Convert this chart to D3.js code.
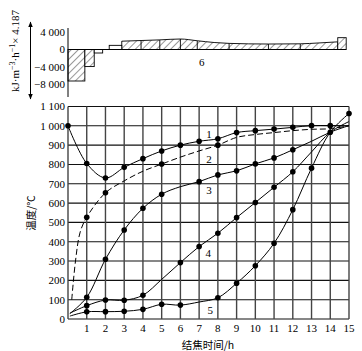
<!DOCTYPE html>
<html><head><meta charset="utf-8">
<script src="https://cdn.jsdelivr.net/npm/d3@7"></script>
<style>html,body{margin:0;padding:0;background:#fff;}</style>
</head><body>
<svg id="c" width="362" height="351"></svg>
<script>
// ---------- data ----------
const xTicks = [1,2,3,4,5,6,7,8,9,10,11,12,13,14,15];
const yTicks = [0,100,200,300,400,500,600,700,800,900,1000,1100];
const yTickLabels = ["0","100","200","300","400","500","600","700","800","900","1 000","1 100"];
const topTicks = [4000, 0, -4000, -8000];
const topTickLabels = ["4 000","0","\u22124 000","\u22128 000"];

// curve 1 (solid)
const c1T = [0,1,2,3,4,5,6,7,8,9,10,11,12,13,14,15];
const c1V = [1000,805,730,785,830,870,900,920,933,965,975,983,992,1001,1001,1000];
const c1Dots = [0,1,2,3,4,5,6,7,8,9,10,11,12,13,14];
// curve 2 (dashed)
const c2T = [0.2,0.4,0.65,1,2,3,4,5,6,7,8,9,10,11,12,13,14,15];
const c2V = [100,300,450,527,653,715,765,802,838,870,900,940,955,965,975,982,985,1000];
const c2Dots = [1,2,5,8];
// curve 3
const c3T = [0.1,1,2,3,4,5,6,7,8,9,10,11,12,13,14,15];
const c3V = [28,112,309,461,573,646,685,711,746,767,803,834,876,920,967,1001];
const c3Dots = [1,2,3,4,5,7,8,9,10,11,12,14];
// curve 4
const c4T = [0.1,1,2,3,4,5,6,7,8,9,10,11,12,13,14,15];
const c4V = [30,69,98,97,123,205,292,375,444,525,603,682,762,865,967,1022];
const c4Dots = [1,2,3,4,6,7,8,9,10,11,12];
// curve 5
const c5T = [0.1,1,2,3,4,5,6,7,8,9,10,11,12,13,14,15];
const c5V = [15,37,38,40,50,76,72,88,110,185,276,392,566,781,967,1064];
const c5Dots = [1,2,3,4,5,6,8,9,10,11,12,13,15];

const curveLabels = ["1","2","3","4","5"];
const curveLabelT = [7.53,7.53,7.53,7.48,7.6];
const curveLabelV = [958,829,668,342,47];

// heat flux (top chart): step bars
const barStart = [0, 0.9, 1.4, 2.2, 14.4];
const barEnd   = [0.9, 1.4, 1.85, 2.87, 14.85];
const barValue = [-7200, -3900, -800, 950, 2700];
const barHatched = [true, true, false, false, true];
// smooth hatched band
const bandT = [2.87,3.9,4.9,6.0,6.9,7.8,8.6,10.7,12.4,13.4,14.4];
const bandV = [1900,2050,2200,2400,2000,1600,1400,1250,1300,1500,1750];
const bandDividers = [3.9,4.9,6.0,6.9,8.6,10.7,12.4];

// ---------- drawing ----------
const svg = d3.select("#c");
const serif = "'Liberation Serif','Times New Roman',serif";
const cjk = "'Noto Sans CJK SC','Noto Sans',sans-serif";

const x = d3.scaleLinear().domain([0,15]).range([68,349]);
const y = d3.scaleLinear().domain([0,1100]).range([319,106.5]);
const yt = d3.scaleLinear().domain([-8000,4000]).range([84.5,32]);

// hatch pattern
const defs = svg.append("defs");
const pat = defs.append("pattern").attr("id","hatch").attr("patternUnits","userSpaceOnUse")
  .attr("width",5).attr("height",5).attr("patternTransform","rotate(45)");
pat.append("rect").attr("width",5).attr("height",5).attr("fill","#fff");
pat.append("line").attr("x1",0).attr("y1",0).attr("x2",0).attr("y2",5)
  .attr("stroke","#000").attr("stroke-width",0.8);

// main grid
const g = svg.append("g");
g.selectAll("line.hg").data(yTicks).join("line")
  .attr("x1",x(0)).attr("x2",x(15)).attr("y1",d=>y(d)).attr("y2",d=>y(d))
  .attr("stroke","#111").attr("stroke-width",1.1);
g.selectAll("line.vg").data([0].concat(xTicks)).join("line")
  .attr("x1",d=>x(d)).attr("x2",d=>x(d)).attr("y1",y(0)).attr("y2",y(1100))
  .attr("stroke","#444").attr("stroke-width",1.4);

// axis labels
g.selectAll("text.yl").data(yTicks).join("text")
  .attr("x",65).attr("y",(d)=>y(d)).attr("dy","0.35em").attr("text-anchor","end")
  .attr("font-family",serif).attr("font-size",11).text((d,i)=>yTickLabels[i]);
g.selectAll("text.xl").data(xTicks).join("text")
  .attr("x",d=>x(d)).attr("y",332).attr("text-anchor","middle")
  .attr("font-family",serif).attr("font-size",11).text(d=>d);

svg.append("text").attr("transform","translate(35,213) rotate(-90)")
  .attr("text-anchor","middle").attr("font-family",cjk).attr("font-size",10.5).text("温度/℃");
svg.append("text").attr("x",208).attr("y",349).attr("text-anchor","middle")
  .attr("font-family",cjk).attr("font-size",10.5).text("结焦时间/h");

// curves
const curves = [
  {t:c1T,v:c1V,dots:c1Dots,dash:null},
  {t:c2T,v:c2V,dots:c2Dots,dash:"6,3"},
  {t:c3T,v:c3V,dots:c3Dots,dash:null},
  {t:c4T,v:c4V,dots:c4Dots,dash:null},
  {t:c5T,v:c5V,dots:c5Dots,dash:null}
];
const line = d3.line().x(d=>x(d[0])).y(d=>y(d[1])).curve(d3.curveCatmullRom.alpha(0.5));
curves.forEach(c=>{
  const pts = c.t.map((t,i)=>[t,c.v[i]]);
  svg.append("path").attr("d",line(pts)).attr("fill","none").attr("stroke","#000")
    .attr("stroke-width",1).attr("stroke-dasharray",c.dash);
  const dp = pts.filter(p=>c.dots.includes(p[0]));
  svg.append("g").selectAll("circle").data(dp).join("circle")
    .attr("cx",d=>x(d[0])).attr("cy",d=>y(d[1])).attr("r",2.8).attr("fill","#000");
});
svg.append("g").selectAll("text").data(curveLabels).join("text")
  .attr("x",(d,i)=>x(curveLabelT[i])).attr("y",(d,i)=>y(curveLabelV[i])).attr("dy","0.35em")
  .attr("text-anchor","middle").attr("font-family",serif).attr("font-size",11).text(d=>d);

// ---------- top chart ----------
const tg = svg.append("g");
// band
const area = d3.area().x(d=>x(d[0])).y0(yt(0)).y1(d=>yt(d[1])).curve(d3.curveMonotoneX);
const bandPts = bandT.map((t,i)=>[t,bandV[i]]);
tg.append("path").attr("d",area(bandPts)).attr("fill","url(#hatch)").attr("stroke","#000").attr("stroke-width",0.9);
// dividers
tg.selectAll("line.div").data(bandDividers).join("line")
  .attr("x1",d=>x(d)).attr("x2",d=>x(d)).attr("y1",yt(0))
  .attr("y2",d=>yt(bandV[bandT.indexOf(d)]))
  .attr("stroke","#000").attr("stroke-width",0.9);
// bars
tg.selectAll("rect.bar").data(barValue).join("rect")
  .attr("x",(d,i)=>x(barStart[i])).attr("width",(d,i)=>x(barEnd[i])-x(barStart[i]))
  .attr("y",d=>Math.min(yt(d),yt(0))).attr("height",d=>Math.abs(yt(d)-yt(0)))
  .attr("fill",(d,i)=>barHatched[i]?"url(#hatch)":"#fff")
  .attr("stroke","#000").attr("stroke-width",0.9);
// zero line
tg.append("line").attr("x1",x(0)).attr("x2",x(14.85)).attr("y1",yt(0)).attr("y2",yt(0))
  .attr("stroke","#000").attr("stroke-width",1);
// axis
tg.append("line").attr("x1",x(0)).attr("x2",x(0)).attr("y1",28).attr("y2",97)
  .attr("stroke","#000").attr("stroke-width",1);
tg.selectAll("text.tl").data(topTicks).join("text")
  .attr("x",65).attr("y",d=>yt(d)).attr("dy","0.35em").attr("text-anchor","end")
  .attr("font-family",serif).attr("font-size",11).text((d,i)=>topTickLabels[i]);
tg.append("text").attr("x",x(7.14)).attr("y",yt(-2860)).attr("dy","0.35em")
  .attr("text-anchor","middle").attr("font-family",serif).attr("font-size",11).text("6");

// double arrow
defs.append("marker").attr("id","ah").attr("viewBox","0 0 10 10").attr("refX",9).attr("refY",5)
  .attr("markerWidth",6).attr("markerHeight",6).attr("orient","auto-start-reverse")
  .append("path").attr("d","M0,1 L10,5 L0,9 Z").attr("fill","#000");
svg.append("line").attr("x1",30.5).attr("x2",30.5).attr("y1",22).attr("y2",99)
  .attr("stroke","#000").attr("stroke-width",1)
  .attr("marker-start","url(#ah)").attr("marker-end","url(#ah)");

// rotated unit label
const ul = svg.append("text").attr("transform","translate(19,51) rotate(-90)")
  .attr("text-anchor","middle").attr("font-family",serif).attr("font-size",11);
ul.append("tspan").text("kJ·m");
ul.append("tspan").attr("dy",-4).attr("font-size",8).text("\u22123");
ul.append("tspan").attr("dy",4).text("·h");
ul.append("tspan").attr("dy",-4).attr("font-size",8).text("\u22121");
ul.append("tspan").attr("dy",4).text("× 4.187");
</script>
</body></html>
